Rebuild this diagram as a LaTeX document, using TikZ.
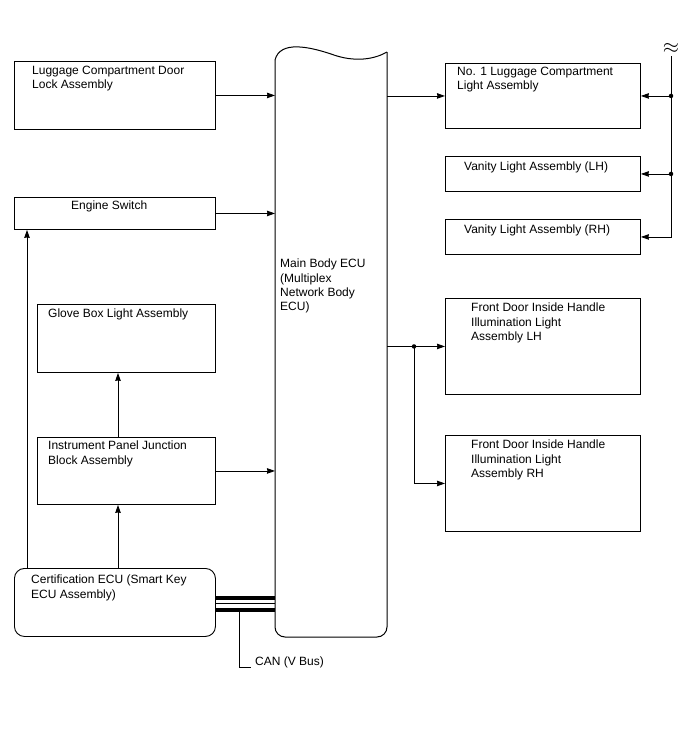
\documentclass[tikz,border=0pt]{standalone}
\usepackage{fontspec}
\setmainfont{Liberation Sans}
\usepackage{tikz}
\usetikzlibrary{arrows.meta, positioning, calc}
\tikzset{
  box/.style={rectangle, draw=black, line width=0.9pt, anchor=north west, inner sep=0pt},
  lbl/.style={anchor=north west, inner sep=0pt, align=left,
    font=\fontsize{12}{14.3}\selectfont},
  arr/.style={-{Stealth[length=8pt, width=5.5pt, inset=0.5pt]}, line width=0.9pt},
  wire/.style={line width=0.9pt},
  tap/.style={circle, fill=black, inner sep=0pt, minimum size=4.5pt},
  canbus/.style={line width=3.5pt}
}

\begin{document}
\begin{tikzpicture}[x=1pt, y=-1pt]
  \useasboundingbox (0,0) rectangle (688,755);

  % left column
  \node[box, minimum width=201pt, minimum height=68pt] (lugdoor) at (14,61) {};
  \node[lbl] (lugdoor-t) at (32,66) {Luggage Compartment Door\\Lock Assembly};
  \node[box, minimum width=201pt, minimum height=32pt] (engsw) at (14,197) {};
  \node[lbl] (engsw-t) at (71,201) {Engine Switch};
  \node[box, minimum width=178pt, minimum height=68pt] (glove) at (37,304) {};
  \node[lbl] (glove-t) at (48,309) {Glove Box Light Assembly};
  \node[box, minimum width=178pt, minimum height=67pt] (ipjb) at (37,437) {};
  \node[lbl] (ipjb-t) at (48,441) {Instrument Panel Junction\\Block Assembly};
  \node[box, rounded corners=10pt, minimum width=201pt, minimum height=68pt] (cert) at (14,568) {};
  \node[lbl] (cert-t) at (31,575) {Certification ECU (Smart Key\\ECU Assembly)};

  % main body ECU
  \node[anchor=north west, inner sep=0pt, minimum width=112pt, minimum height=589pt] (ecu) at (275,48) {};
  \draw[line width=1pt] (275,60) .. controls (280,40) and (310,47) .. (331,54)
    .. controls (355,63) and (375,59) .. (387,52);
  \draw[line width=1pt, rounded corners=10pt] (387,52) -- (387,637) -- (275,637) -- (275,60);
  \node[lbl] (ecu-t) at (280,259) {Main Body ECU\\(Multiplex\\Network Body\\ECU)};

  % right column
  \node[box, minimum width=195pt, minimum height=65pt] (no1) at (445,63) {};
  \node[lbl] (no1-t) at (457,67) {No. 1 Luggage Compartment\\Light Assembly};
  \node[box, minimum width=195pt, minimum height=35pt] (vanlh) at (445,156) {};
  \node[lbl] (vanlh-t) at (464,162) {Vanity Light Assembly (LH)};
  \node[box, minimum width=195pt, minimum height=35pt] (vanrh) at (445,219) {};
  \node[lbl] (vanrh-t) at (464,225) {Vanity Light Assembly (RH)};
  \node[box, minimum width=195pt, minimum height=96pt] (fdlh) at (445,298) {};
  \node[lbl] (fdlh-t) at (471,303) {Front Door Inside Handle\\Illumination Light\\Assembly LH};
  \node[box, minimum width=195pt, minimum height=96pt] (fdrh) at (445,435) {};
  \node[lbl] (fdrh-t) at (471,440) {Front Door Inside Handle\\Illumination Light\\Assembly RH};

  % inputs to ECU
  \draw[arr] (lugdoor.east) -- (lugdoor.east -| ecu.west);
  \draw[arr] (engsw.east) -- (engsw.east -| ecu.west);
  \draw[arr] (ipjb.east) -- (ipjb.east -| ecu.west);

  % certification ECU
  \coordinate (engx) at ([xshift=13pt]engsw.south west);
  \coordinate (ipx) at ([xshift=81pt]ipjb.south west);
  \draw[arr] (engx |- cert.north) -- (engx);
  \draw[arr] (ipx |- cert.north) -- (ipx);
  \draw[arr] (ipx |- ipjb.north) -- (ipx |- glove.south);

  % CAN
  \draw[canbus] ([yshift=4.5pt]cert.east) -- ([yshift=4.5pt]cert.east -| ecu.west);
  \draw[wire] ([yshift=-1.2pt]cert.east) -- ([yshift=-1.2pt]cert.east -| ecu.west);
  \draw[canbus] ([yshift=-7.3pt]cert.east) -- ([yshift=-7.3pt]cert.east -| ecu.west);
  \coordinate (canx) at ([xshift=24pt, yshift=-7.3pt]cert.east);
  \draw[wire] (canx) -- ++(0,58) -- ++(11,0) coordinate (canend);
  \node[lbl, anchor=west] (can-t) at ([xshift=4pt, yshift=5pt]canend) {CAN (V Bus)};

  % ECU outputs
  \draw[arr] (no1.west -| ecu.east) -- (no1.west);
  \draw[arr] (fdlh.west -| ecu.east) -- (fdlh.west);
  \path (fdlh.west) ++(-31,0) coordinate (fdtap);
  \node[tap] (fdtap-d) at (fdtap) {};
  \draw[arr] (fdtap) |- (fdrh.west);

  % lamp bus
  \node[font=\fontsize{22}{22}\selectfont, inner sep=0pt] (brk) at (671,48) {$\approx$};
  \coordinate (bustop) at (671,56);
  \draw[arr] (bustop) |- (vanrh.east);
  \draw[arr] (bustop |- no1.east) -- (no1.east);
  \draw[arr] (bustop |- vanlh.east) -- (vanlh.east);
  \node[tap] (bus1) at (bustop |- no1.east) {};
  \node[tap] (bus2) at (bustop |- vanlh.east) {};
\end{tikzpicture}
\end{document}
